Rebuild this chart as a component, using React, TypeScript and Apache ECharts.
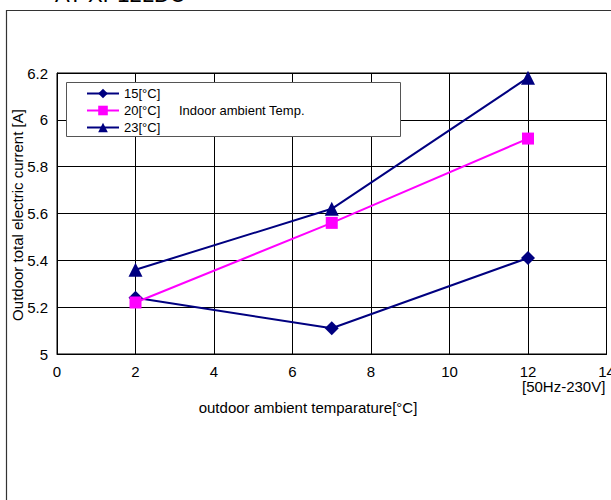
import React, { useEffect, useRef } from "react";
import * as echarts from "echarts";

const xTicks = [0, 2, 4, 6, 8, 10, 12, 14];
const outdoorTemps = [2, 7, 12];
const s15 = [5.24, 5.11, 5.41];
const s20 = [5.22, 5.56, 5.92];
const s23 = [5.36, 5.62, 6.18];
const seriesNames = ["15[°C]", "20[°C]", "23[°C]"];

const FONT = "'Liberation Sans', Arial, sans-serif";

export default function App() {
  const ref = useRef<HTMLDivElement>(null);
  useEffect(() => {
    if (!ref.current) return;
    const chart = echarts.init(ref.current, undefined, { renderer: "svg" });
    const pair = (vals: number[]) => outdoorTemps.map((x, i) => [x, vals[i]]);
    chart.setOption({
      animation: false,
      backgroundColor: "#fff",
      textStyle: { fontFamily: FONT },
      grid: {
        left: 57,
        right: 4.5,
        top: 73,
        bottom: 146,
        show: true,
        borderColor: "#000",
        borderWidth: 1,
        backgroundColor: "transparent",
        containLabel: false,
        outerBoundsMode: "none",
      },
      xAxis: {
        type: "value",
        min: xTicks[0],
        max: xTicks[xTicks.length - 1],
        interval: 2,
        axisLine: { show: true, lineStyle: { color: "#000", width: 1 } },
        axisTick: { show: false },
        axisLabel: { color: "#000", fontSize: 15, margin: 10, fontFamily: FONT, hideOverlap: false },
        splitLine: { show: true, lineStyle: { color: "#000", width: 1 } },
      },
      yAxis: {
        type: "value",
        min: 5,
        max: 6.2,
        interval: 0.2,
        axisLine: { show: true, lineStyle: { color: "#000", width: 1 } },
        axisTick: { show: false },
        axisLabel: {
          color: "#000",
          fontSize: 15,
          margin: 9,
          fontFamily: FONT,
          formatter: (v: number) => String(Math.round(v * 10) / 10),
        },
        splitLine: { show: true, lineStyle: { color: "#000", width: 1 } },
      },
      legend: {
        orient: "vertical",
        left: 81,
        top: 82,
        itemGap: 4,
        itemWidth: 32,
        itemHeight: 12,
        z: 20,
        textStyle: { color: "#000", fontSize: 13, fontFamily: FONT },
        data: seriesNames,
      },
      graphic: [
        {
          type: "rect",
          z: 10,
          shape: { x: 66.5, y: 82.5, width: 334, height: 54 },
          style: { fill: "#fff", stroke: "#555", lineWidth: 1 },
        },
        {
          type: "text",
          z: 21,
          x: 179,
          y: 110,
          style: {
            text: "Indoor ambient Temp.",
            fill: "#000",
            font: `13px ${FONT}`,
            textVerticalAlign: "middle",
          },
        },
        {
          type: "text",
          z: 21,
          x: 308,
          y: 407,
          style: {
            text: "outdoor ambient temparature[°C]",
            fill: "#000",
            font: `15px ${FONT}`,
            textAlign: "center",
            textVerticalAlign: "middle",
          },
        },
        {
          type: "text",
          z: 21,
          x: 17,
          y: 215,
          rotation: Math.PI / 2,
          style: {
            text: "Outdoor total electric current [A]",
            fill: "#000",
            font: `15px ${FONT}`,
            textAlign: "center",
            textVerticalAlign: "middle",
          },
        },
        {
          type: "rect",
          z: 30,
          shape: { x: 6.5, y: 10.5, width: 620, height: 500 },
          style: { fill: "none", stroke: "#333", lineWidth: 1.2 },
        },
        {
          type: "text",
          z: 30,
          x: 55,
          y: 5,
          style: {
            text: "AY-XP12LDU",
            fill: "#000",
            font: `22px ${FONT}`,
            textVerticalAlign: "bottom",
          },
        },
        {
          type: "text",
          z: 30,
          x: 522,
          y: 386,
          style: {
            text: "[50Hz-230V]",
            fill: "#000",
            font: `15px ${FONT}`,
            textVerticalAlign: "middle",
          },
        },
      ],
      series: [
        {
          name: seriesNames[0],
          type: "line",
          data: pair(s15),
          symbol: "diamond",
          symbolSize: 14,
          itemStyle: { color: "#000080" },
          lineStyle: { color: "#000080", width: 2 },
          z: 5,
        },
        {
          name: seriesNames[1],
          type: "line",
          data: pair(s20),
          symbol: "rect",
          symbolSize: 12,
          itemStyle: { color: "#ff00ff" },
          lineStyle: { color: "#ff00ff", width: 2 },
          z: 6,
        },
        {
          name: seriesNames[2],
          type: "line",
          data: pair(s23),
          symbol: "triangle",
          symbolSize: 14,
          itemStyle: { color: "#000080" },
          lineStyle: { color: "#000080", width: 2 },
          z: 4,
        },
      ],
    });
    return () => chart.dispose();
  }, []);
  return (
    <div
      ref={ref}
      style={{ position: "absolute", left: 0, top: 0, width: 611, height: 500 }}
    />
  );
}
